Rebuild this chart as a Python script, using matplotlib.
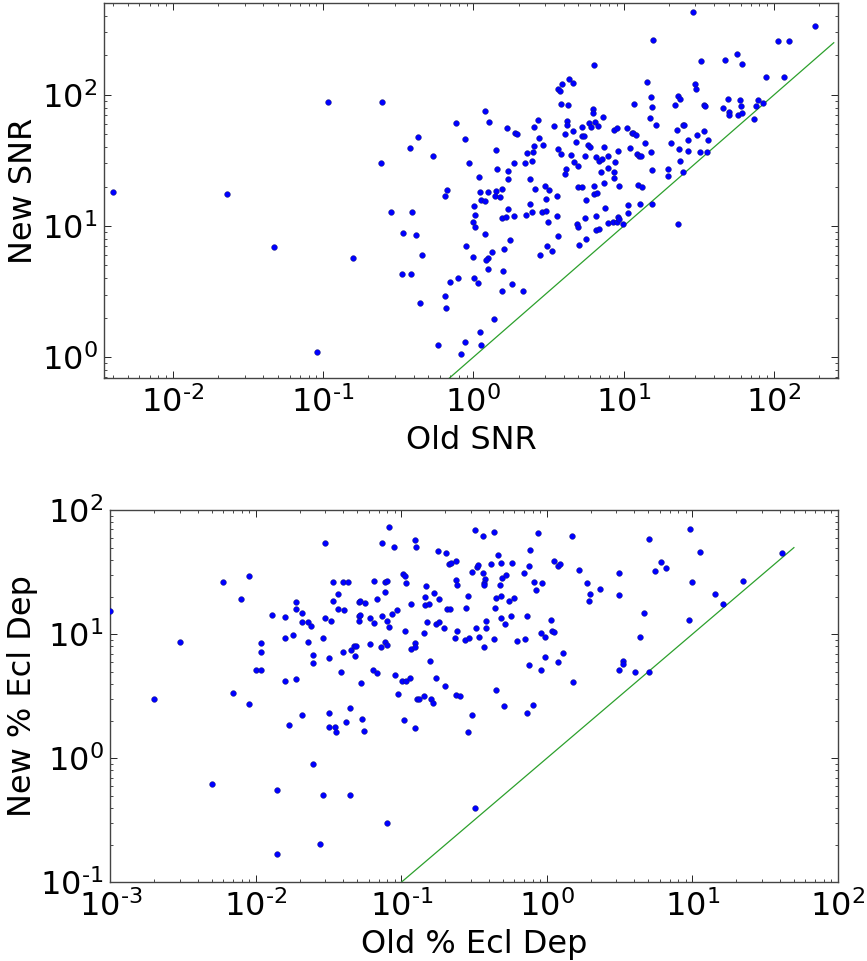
import matplotlib
matplotlib.use("Agg")
import matplotlib.pyplot as plt
from matplotlib.ticker import FuncFormatter, NullFormatter
import numpy as np

# ---------------- data ----------------
old_snr = [
    0.0040, 0.023, 0.108, 0.247, 0.244,
    0.281, 0.393, 0.342, 0.413, 0.455, 0.335, 0.383, 0.444, 0.585, 0.047, 0.159, 0.0912,
    28.8, 189, 15.7, 106, 125, 6.38, 32.5, 47.5, 56.5, 61.5,
    88.9, 116, 14.2, 30.0, 30.3, 4.35, 4.60, 3.91, 3.68, 3.79,
    3.83, 4.29, 15.2, 23.0, 23.6, 22.1, 11.8, 15.5, 6.22, 6.22,
    49.2, 59.4, 34.4, 34.9, 60.6, 46.0, 49.9, 50.5, 57.3, 60.9,
    78.7, 84.1, 76.3, 74.0, 1.20, 0.770, 1.28, 2.69, 3.42, 4.18,
    4.18, 2.52, 1.67, 1.90, 1.95, 2.72, 0.885, 0.426, 0.379, 0.537,
    0.931, 1.41, 1.43, 1.09, 0.665, 0.645, 2.55, 2.92, 2.49, 2.26,
    2.46, 2.20, 1.85, 1.71, 1.71, 2.39, 2.58, 4.09, 4.63, 5.26,
    5.85, 6.03, 6.45, 6.75, 7.32, 4.84, 5.26, 5.47, 3.68, 3.83,
    4.49, 4.67, 4.94, 4.16, 4.05, 5.82, 5.94, 5.53, 7.44, 6.58,
    6.82, 7.21, 7.83, 8.67, 9.08, 10.5, 11.3, 11.5, 12.0, 11.0,
    13.9, 12.3, 12.6, 13.0, 15.3, 9.21, 8.76, 7.83, 7.07, 8.67,
    8.62, 15.4, 16.4, 14.9, 22.7, 24.7, 25.3, 20.7, 23.2, 26.9,
    26.9, 30.9, 34.0, 36.6, 32.2, 35.7, 23.8, 19.8, 19.6, 24.7,
    3.01, 3.19, 3.58, 3.04, 4.99, 5.26, 6.35, 7.36, 9.36, 6.35,
    6.61, 12.5, 13.2, 1.11, 1.26, 1.41, 1.56, 1.39, 1.50, 1.12,
    5.59,
    1.20, 1.01, 1.03, 0.99, 1.02, 1.70, 1.55, 1.65, 1.85, 2.38,
    2.24, 2.46, 2.86, 3.04, 3.62, 3.14, 4.92, 4.97, 5.53, 6.51,
    7.47, 10.7, 12.8, 15.5, 10.7, 7.83, 8.54, 8.98, 9.12, 9.26,
    9.90, 6.54, 6.82, 23.0, 5.59, 5.05, 3.68, 3.07, 3.34, 2.78,
    1.20, 1.75, 1.60, 1.34, 1.26, 1.21, 0.99, 0.898, 1.25, 1.58,
    1.80, 2.15, 1.54, 1.01, 1.07, 0.791, 0.700, 0.648, 0.658, 1.38,
    1.10, 0.885, 0.832, 1.12,
]
new_snr = [
    18.3, 17.6, 88, 89, 30.5,
    12.9, 12.7, 8.77, 8.57, 6.03, 4.34, 4.27, 2.58, 1.23, 6.90, 5.69, 1.10,
    432, 334, 263, 257, 260, 168, 182, 185, 204, 172,
    136, 138, 126, 121, 111, 133, 124, 121, 110, 107,
    85.4, 83.9, 96.0, 97.7, 92.7, 83.9, 84.9, 80.5, 78.2, 72.9,
    93.8, 92.1, 83.9, 82.0, 82.4, 79.1, 73.8, 70.0, 70.8, 72.5,
    91.0, 86.4, 82.4, 66.0, 75.1, 60.8, 62.6, 64.9, 58.0, 63.0,
    59.4, 57.4, 56.4, 51.0, 50.4, 47.3, 45.7, 47.8, 39.2, 34.5,
    30.0, 38.1, 27.0, 23.6, 18.8, 16.9, 40.9, 41.6, 36.8, 36.1,
    31.6, 30.5, 30.1, 26.3, 23.0, 23.0, 19.1, 50.1, 53.5, 57.4,
    60.8, 56.7, 62.3, 58.4, 68.4, 44.1, 48.4, 48.7, 38.8, 35.5,
    35.1, 30.8, 28.6, 27.0, 25.0, 41.6, 40.4, 34.5, 40.1, 33.9,
    31.2, 32.7, 34.5, 53.8, 55.7, 56.4, 51.6, 51.0, 49.3, 39.7,
    42.8, 35.5, 34.3, 34.1, 36.5, 37.4, 31.0, 27.9, 25.7, 26.0,
    23.3, 26.8, 59.4, 66.8, 53.8, 59.1, 58.7, 43.3, 38.8, 45.1,
    37.6, 49.3, 53.5, 45.1, 36.5, 36.5, 31.4, 27.1, 24.0, 25.7,
    20.1, 18.8, 16.9, 16.1, 19.9, 19.7, 20.2, 21.3, 20.2, 17.6,
    17.8, 20.7, 19.7, 18.1, 18.3, 18.5, 19.2, 16.9, 16.7, 15.8,
    15.8,
    15.5, 14.3, 12.2, 10.8, 9.85, 13.6, 11.5, 11.8, 12.0, 14.7,
    12.2, 12.9, 12.8, 13.1, 12.0, 10.8, 10.4, 9.85, 11.5, 12.0,
    13.8, 14.4, 14.7, 14.7, 12.5, 10.6, 10.7, 10.7, 11.8, 11.3,
    10.3, 9.30, 9.51, 10.4, 7.98, 7.14, 8.37, 7.02, 6.47, 6.03,
    8.66, 7.85, 6.66, 6.35, 5.75, 5.55, 5.85, 7.10, 4.74, 4.53,
    3.62, 3.19, 3.19, 3.98, 3.69, 3.98, 3.71, 2.92, 2.39, 1.97,
    1.55, 1.31, 1.05, 1.23,
]

old_dep = [
    0.001, 0.0030, 0.0020, 0.00598, 0.00894, 0.00796, 0.00698, 0.00894, 0.0109, 0.0109,
    0.0100, 0.0109, 0.0129, 0.0159, 0.0159, 0.0159, 0.0188, 0.0188, 0.0188, 0.0179,
    0.0208, 0.0208, 0.0229, 0.0239, 0.0229, 0.0248, 0.0248, 0.0299, 0.0288, 0.0299,
    0.0327, 0.0319, 0.0338, 0.0338, 0.0368, 0.0368, 0.0400, 0.0429, 0.0407, 0.0388,
    0.0400, 0.0447, 0.0510, 0.0518, 0.0564, 0.0510, 0.0524, 0.0510, 0.0454, 0.0471,
    0.0489, 0.0479, 0.0527, 0.0610, 0.0650, 0.0607, 0.0647, 0.0678, 0.0643, 0.0685,
    0.0738, 0.0820, 0.0892, 0.0738, 0.0778, 0.0774, 0.0803, 0.0798, 0.0820, 0.0730,
    0.0774, 0.0798, 0.0865, 0.0936, 0.0911, 0.0946, 0.101, 0.108, 0.114, 0.103,
    0.106, 0.106, 0.108, 0.117, 0.116, 0.124, 0.126, 0.124, 0.124, 0.128,
    0.1325, 0.144, 0.147, 0.146, 0.146, 0.156, 0.150, 0.1435, 0.158, 0.159,
    0.1645, 0.167, 0.172, 0.1725, 0.180, 0.182, 0.181,
    0.0169, 0.0208, 0.0319, 0.0317, 0.0349, 0.0358, 0.0417, 0.0538, 0.0558, 0.1045,
    0.125, 0.00498, 0.0139, 0.0248, 0.0288, 0.0447, 0.0803, 0.0278, 0.0139,
    0.308, 0.286, 0.729, 0.323,
    0.204, 0.323, 0.367, 0.435, 0.460, 0.483, 0.414, 0.575, 0.212, 0.220,
    0.239, 0.305, 0.332, 0.339, 0.365, 0.379, 0.373, 0.369, 0.478, 0.493,
    0.525, 0.764, 0.876, 0.699, 0.756, 0.814, 0.924, 0.840, 1.12, 1.20,
    1.24, 1.49, 1.67, 1.89, 1.99, 1.96, 2.33, 3.14, 3.14, 5.05,
    6.11, 5.53, 6.61, 9.67, 11.4, 10.0, 14.4, 16.4, 22.5, 41.7,
    9.57, 4.64, 4.40, 3.37, 3.35, 3.16, 4.03, 5.05, 1.52, 1.30,
    1.19, 0.969, 0.919, 0.756, 1.07, 1.09, 1.12, 0.919, 0.974, 0.729,
    0.713, 0.625, 0.600, 0.553, 0.566, 0.520, 0.483, 0.449, 0.441, 0.485,
    0.381, 0.381, 0.327, 0.343, 0.373, 0.437, 0.279, 0.289, 0.236, 0.243,
    0.276, 0.291, 0.205, 0.217, 0.198, 0.199, 0.239, 0.255, 0.446, 0.509,
    0.805, 0.239, 0.241,
]
new_dep = [
    15.4, 8.62, 2.99, 26.4, 29.4, 19.3, 3.34, 2.74, 8.51, 7.20,
    5.19, 5.13, 14.4, 13.9, 9.29, 4.21, 18.2, 15.9, 4.34, 9.88,
    14.8, 12.6, 12.6, 11.6, 8.73, 6.77, 5.84, 54.2, 9.29, 13.5,
    12.7, 6.40, 26.3, 18.7, 21.2, 16.1, 26.4, 26.4, 15.7, 5.00,
    7.25, 2.53, 18.2, 18.7, 18.0, 14.1, 14.4, 12.9, 7.43, 8.05,
    8.00, 6.69, 4.03, 13.5, 12.3, 8.30, 26.9, 19.2, 5.19, 4.88,
    54.5, 72.9, 50.6, 14.0, 21.9, 26.4, 27.1, 12.9, 11.5, 7.90,
    8.73, 8.15, 14.7, 15.7, 4.67, 3.32, 4.21, 4.23, 4.47, 30.7,
    29.5, 10.6, 26.1, 17.4, 7.57, 57.6, 50.3, 8.46, 7.90, 3.03,
    2.99, 3.16, 24.5, 19.9, 17.2, 17.6, 12.6, 10.2, 6.06, 3.01,
    2.78, 21.5, 12.0, 4.47, 47.0, 19.4, 12.6,
    1.86, 2.25, 2.32, 1.80, 1.78, 1.62, 1.98, 2.06, 1.67, 2.02,
    1.75, 0.617, 0.556, 0.894, 0.506, 0.506, 0.299, 0.204, 0.170,
    2.25, 1.62, 2.32, 0.400,
    45.3, 69.0, 61.7, 66.9, 43.9, 37.8, 36.7, 37.8, 37.1, 37.4,
    39.0, 31.6, 34.9, 36.5, 31.2, 27.9, 26.1, 24.8, 25.0, 28.6,
    30.3, 48.2, 66.1, 31.2, 35.8, 26.3, 25.8, 22.8, 39.0, 35.6,
    36.7, 61.7, 33.0, 25.8, 21.2, 18.5, 23.1, 31.2, 20.9, 58.4,
    38.5, 32.6, 34.1, 70.7, 45.9, 26.4, 21.2, 17.5, 26.8, 45.0,
    13.1, 14.8, 9.58, 6.06, 5.73, 5.19, 4.97, 4.94, 4.15, 7.03,
    5.94, 6.61, 5.13, 5.66, 13.1, 10.7, 10.4, 10.3, 9.46, 14.1,
    9.17, 8.89, 19.6, 18.5, 14.0, 12.0, 13.5, 19.6, 16.4, 20.4,
    12.7, 11.2, 11.3, 9.46, 7.85, 9.17, 16.4, 20.3, 9.29, 10.6,
    9.00, 9.29, 15.9, 15.9, 11.3, 3.81, 3.26, 3.16, 3.58, 2.66,
    2.68, 27.4, 25.0,
]

snr_line = [0.5, 250]
dep_line = [0.1, 50]

# ---------------- style ----------------
plt.rcParams.update({
    "font.family": "DejaVu Sans",
    "mathtext.fontset": "dejavusans",
    "axes.unicode_minus": False,
    "font.size": 23,
    "xtick.direction": "in",
    "ytick.direction": "in",
    "xtick.top": True,
    "ytick.right": True,
    "xtick.major.size": 5,
    "ytick.major.size": 5,
    "xtick.minor.size": 2.5,
    "ytick.minor.size": 2.5,
    "xtick.major.width": 0.6,
    "ytick.major.width": 0.6,
    "xtick.minor.width": 0.5,
    "ytick.minor.width": 0.5,
    "xtick.major.pad": 6,
    "ytick.major.pad": 5,
    "axes.linewidth": 1.0,
})


def dec_fmt(v, pos):
    e = int(np.round(np.log10(v)))
    if e < 0:
        return r"$\mathdefault{10^{\text{-}%d}}$" % (-e)
    return r"$\mathdefault{10^{%d}}$" % e


fig = plt.figure(figsize=(8.67, 9.61), dpi=100)
ax1 = fig.add_axes([0.1203, 0.6064, 0.8463, 0.3902])
ax2 = fig.add_axes([0.1272, 0.0819, 0.8390, 0.3871])

pt_kw = dict(s=17, c="#0000ff", edgecolors="#1a1a66", linewidths=0.3, zorder=3)

ax1.scatter(old_snr, new_snr, **pt_kw)
ax1.plot(snr_line, snr_line, color="#2ca02c", lw=0.9, zorder=2)
ax1.set_xscale("log")
ax1.set_yscale("log")
ax1.set_xlim(0.0035, 267)
ax1.set_ylim(0.69, 500)
ax1.set_xlabel("Old SNR", fontsize=23)
ax1.set_ylabel("New SNR", fontsize=23)
ax1.yaxis.set_label_coords(-0.089, 0.5)

ax2.scatter(old_dep, new_dep, **pt_kw)
ax2.plot(dep_line, dep_line, color="#2ca02c", lw=0.9, zorder=2)
ax2.set_xscale("log")
ax2.set_yscale("log")
ax2.set_xlim(1e-3, 1e2)
ax2.set_ylim(1e-1, 1e2)
ax2.set_xlabel("Old % Ecl Dep", fontsize=23)
ax2.set_ylabel("New % Ecl Dep", fontsize=23)
ax2.yaxis.set_label_coords(-0.100, 0.5)

for ax in (ax1, ax2):
    ax.tick_params(labelsize=23)
    for axis in (ax.xaxis, ax.yaxis):
        axis.set_major_formatter(FuncFormatter(dec_fmt))
        axis.set_minor_formatter(NullFormatter())
    for sp in ax.spines.values():
        sp.set_color("#444444")

fig.savefig("out.png", dpi=100)
